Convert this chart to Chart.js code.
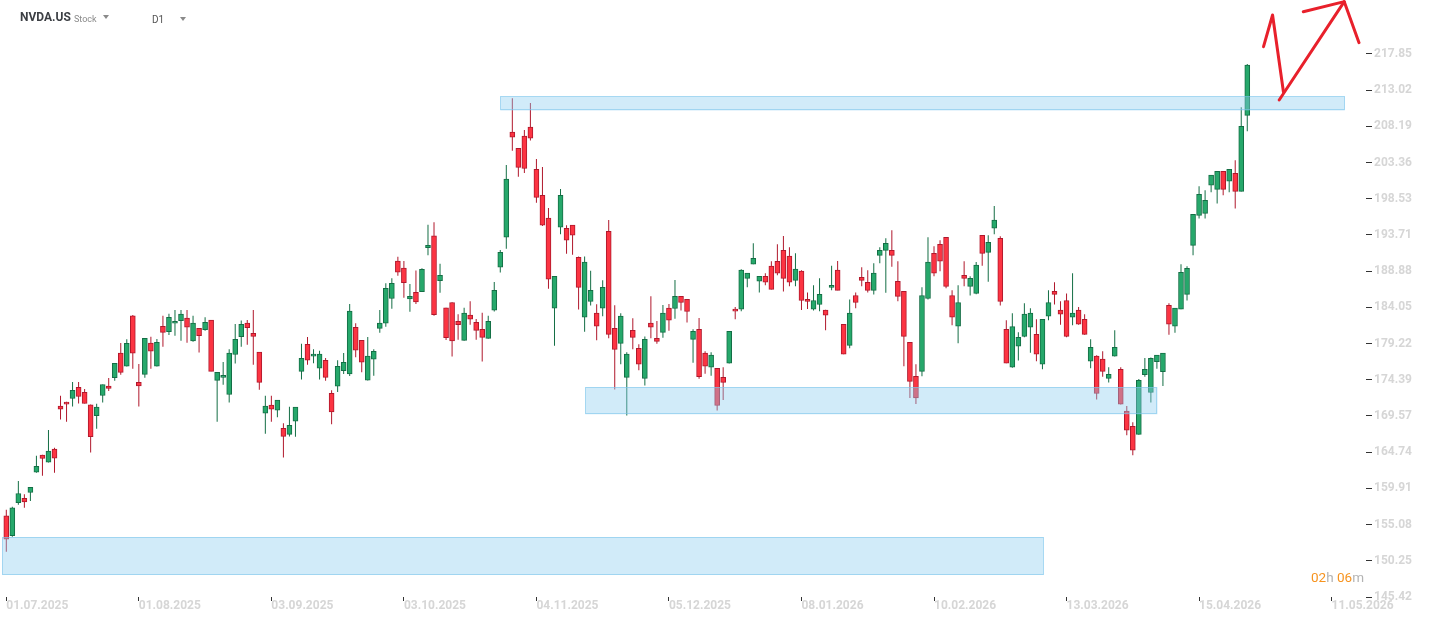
<!DOCTYPE html>
<html>
<head>
<meta charset="utf-8">
<script src="https://cdn.jsdelivr.net/npm/chart.js@4.4.1/dist/chart.umd.min.js"></script>
<style>
  html, body { margin: 0; padding: 0; background: #fff; }
  #wrap { position: relative; width: 1434px; height: 623px; overflow: hidden; font-family: Roboto, sans-serif; }
  #chart { position: absolute; left: 0; top: 0; }
  .txt { position: absolute; white-space: nowrap; }
  .tri { position: absolute; width: 0; height: 0; border-left: 3.5px solid transparent; border-right: 3.5px solid transparent; border-top: 4px solid #8a8a8a; }
</style>
</head>
<body>
<div id="wrap">
  <canvas id="chart" width="1434" height="623"></canvas>
  <div class="txt" style="left:20px;top:10px;font-weight:bold;font-size:12px;color:#3c3f44">NVDA.US</div>
  <div class="txt" style="left:74px;top:14px;font-size:9px;color:#8a8a8a">Stock</div>
  <div class="tri" style="left:103px;top:15px"></div>
  <div class="txt" style="left:152px;top:14px;font-size:10px;color:#555">D1</div>
  <div class="tri" style="left:180px;top:17px"></div>
  <div class="txt" style="left:1311px;top:569px;font-size:13.5px"><span style="color:#f7931e">02</span><span style="color:#b3b3b3">h</span> <span style="color:#f7931e">06</span><span style="color:#b3b3b3">m</span></div>
</div>
<script>
// daily candles, 01.07.2025 onwards (one entry per session)
const opens = [
  156.24, 153.59, 157.99, 158.59, 159.36, 162.06, 164.34, 163.40, 165.15, 170.88,
  171.42, 171.90, 173.37, 172.71, 171.06, 169.62, 172.30, 173.54, 174.66, 177.95,
  176.20, 182.92, 174.04, 175.12, 179.30, 176.20, 181.53, 180.80, 181.94, 182.29,
  182.61, 179.59, 181.26, 181.07, 182.34, 174.31, 174.71, 172.43, 177.76, 180.13,
  181.94, 180.59, 178.08, 169.94, 171.01, 170.34, 167.92, 167.11, 168.86, 175.52,
  179.12, 177.54, 175.93, 177.00, 172.60, 173.54, 175.60, 175.16, 181.40, 179.65,
  174.35, 177.14, 181.26, 181.94, 185.24, 190.22, 189.28, 185.18, 186.05, 186.13,
  192.00, 193.58, 187.61, 183.99, 184.70, 182.20, 179.65, 183.01, 182.07, 181.13,
  179.92, 183.69, 189.41, 193.40, 207.43, 205.28, 206.89, 208.10, 202.45, 199.00,
  195.96, 183.95, 194.75, 194.61, 195.02, 190.72, 182.74, 184.83, 183.28, 183.95,
  194.21, 181.26, 179.26, 174.71, 180.99, 178.59, 174.58, 181.94, 179.92, 180.72,
  183.95, 183.90, 185.51, 185.11, 179.78, 181.13, 177.95, 176.06, 175.93, 174.71,
  176.60, 183.82, 183.82, 187.93, 189.82, 187.53, 188.20, 189.55, 190.20, 191.65,
  190.88, 187.66, 188.88, 185.11, 183.82, 184.43, 183.69, 186.72, 189.01, 181.80,
  178.99, 185.64, 188.07, 187.40, 186.32, 190.99, 191.65, 191.65, 187.53, 186.18,
  179.38, 174.85, 175.52, 185.24, 191.25, 192.46, 193.40, 185.64, 181.53, 188.34,
  186.86, 185.91, 193.67, 191.38, 194.61, 193.27, 181.13, 176.06, 178.86, 180.18,
  181.40, 180.45, 176.47, 182.88, 186.18, 183.69, 184.97, 182.74, 183.69, 182.47,
  176.87, 177.54, 177.14, 174.58, 177.54, 175.79, 170.21, 168.20, 167.11, 175.07,
  172.70, 176.82, 175.47, 184.33, 181.53, 183.82, 185.78, 192.33, 196.31, 196.58,
  200.34, 199.80, 202.20, 200.88, 201.93, 199.53, 209.67
];
const highs = [
  157.05, 157.45, 160.88, 159.13, 160.04, 164.25, 164.40, 167.71, 165.33, 172.25,
  171.46, 174.09, 174.09, 173.15, 171.10, 171.19, 173.78, 174.62, 176.60, 179.30,
  179.80, 183.05, 176.51, 179.92, 180.13, 179.84, 182.92, 183.19, 183.71, 183.71,
  183.71, 182.92, 181.30, 182.74, 182.38, 175.39, 176.78, 178.45, 181.84, 182.29,
  182.38, 183.71, 178.10, 172.25, 172.25, 171.69, 168.59, 170.79, 170.75, 179.20,
  180.10, 178.45, 178.26, 177.31, 173.00, 177.00, 177.95, 184.50, 181.94, 179.70,
  180.09, 178.45, 183.69, 187.26, 187.93, 190.81, 190.24, 187.17, 188.96, 189.28,
  195.06, 195.42, 189.86, 184.00, 184.75, 183.15, 183.99, 184.86, 182.51, 183.34,
  182.92, 187.44, 191.69, 203.03, 211.95, 205.30, 207.70, 211.31, 203.84, 202.78,
  197.30, 188.20, 199.85, 195.02, 195.05, 190.85, 190.85, 188.92, 184.46, 187.66,
  195.69, 184.33, 183.28, 178.08, 182.61, 179.13, 180.18, 185.55, 182.25, 184.38,
  184.50, 187.70, 185.55, 185.15, 181.13, 182.65, 178.20, 178.06, 175.96, 176.06,
  180.86, 184.09, 189.15, 188.65, 192.60, 188.22, 188.61, 190.20, 192.46, 193.58,
  192.06, 191.27, 189.01, 186.05, 186.99, 187.93, 183.72, 189.59, 190.24, 181.84,
  185.11, 186.05, 189.41, 189.01, 189.93, 192.06, 193.27, 194.35, 190.20, 186.20,
  179.40, 176.47, 186.72, 193.40, 192.19, 193.00, 193.42, 186.32, 186.99, 190.20,
  188.20, 190.09, 193.70, 193.67, 197.56, 193.54, 182.34, 183.28, 180.72, 184.60,
  183.95, 182.47, 182.47, 186.32, 187.40, 184.86, 185.91, 188.61, 184.09, 183.15,
  179.80, 177.68, 178.20, 176.06, 180.99, 176.06, 170.88, 168.74, 174.49, 177.31,
  177.38, 177.68, 177.95, 184.60, 183.95, 189.82, 189.55, 196.45, 200.20, 199.67,
  201.69, 202.20, 202.22, 202.47, 203.67, 210.73, 216.50
];
const lows = [
  151.45, 153.45, 157.72, 157.33, 158.23, 162.00, 161.60, 163.35, 162.00, 169.08,
  168.81, 170.83, 171.23, 171.23, 164.69, 167.87, 171.37, 172.91, 174.26, 175.07,
  176.15, 175.87, 170.83, 174.66, 175.87, 176.15, 178.80, 180.36, 180.27, 179.59,
  179.32, 179.46, 178.02, 180.94, 175.52, 168.81, 173.72, 171.36, 176.55, 178.80,
  179.05, 176.41, 173.05, 167.20, 168.81, 169.40, 164.02, 166.84, 166.79, 174.44,
  176.41, 176.60, 174.44, 174.26, 168.46, 172.77, 175.16, 174.89, 177.41, 175.39,
  174.30, 174.93, 180.67, 181.48, 183.87, 188.28, 185.32, 183.47, 184.51, 186.10,
  191.02, 182.92, 185.99, 179.69, 177.49, 179.73, 179.60, 181.75, 179.73, 176.82,
  179.88, 183.50, 188.69, 191.87, 204.95, 201.46, 201.99, 206.30, 198.00, 194.90,
  186.53, 178.93, 193.81, 191.20, 191.07, 183.77, 180.80, 184.30, 179.65, 182.88,
  179.92, 173.10, 176.47, 169.62, 178.45, 175.66, 173.64, 179.92, 179.20, 180.00,
  180.94, 182.55, 183.63, 182.02, 176.68, 174.53, 175.20, 174.93, 170.29, 171.70,
  176.55, 182.47, 183.55, 186.72, 189.80, 186.05, 186.99, 186.45, 188.34, 186.18,
  186.86, 186.86, 183.69, 183.82, 183.64, 183.55, 180.99, 186.32, 186.32, 177.80,
  178.59, 183.95, 186.86, 186.05, 185.78, 189.93, 185.99, 189.47, 184.86, 176.20,
  171.96, 171.15, 174.85, 185.11, 188.20, 188.88, 186.59, 181.67, 179.26, 186.86,
  185.64, 185.80, 189.61, 187.48, 193.81, 184.31, 176.60, 176.00, 176.95, 180.05,
  178.01, 176.87, 175.79, 182.33, 184.43, 181.75, 180.05, 181.67, 181.75, 180.40,
  175.93, 171.77, 174.80, 174.04, 177.50, 171.10, 166.99, 164.34, 167.05, 174.80,
  171.36, 175.87, 173.58, 180.40, 180.67, 183.80, 184.97, 190.99, 195.91, 195.91,
  199.40, 197.92, 199.00, 199.40, 197.25, 199.50, 207.54
];
const closes = [
  153.15, 157.32, 159.23, 158.10, 160.04, 162.86, 163.89, 164.88, 163.94, 170.48,
  171.15, 172.97, 172.16, 171.23, 166.80, 170.75, 173.77, 173.23, 176.60, 175.39,
  179.26, 177.95, 173.58, 179.92, 178.20, 179.40, 180.72, 182.74, 182.20, 183.15,
  181.40, 181.94, 180.27, 182.07, 175.52, 175.39, 174.98, 177.95, 179.80, 181.80,
  181.34, 180.18, 174.04, 170.88, 170.48, 171.69, 166.84, 168.32, 170.75, 177.27,
  177.00, 177.81, 177.81, 174.71, 170.11, 176.20, 176.73, 183.55, 178.33, 176.73,
  177.54, 178.20, 181.94, 186.59, 187.26, 188.74, 187.34, 185.51, 184.78, 189.14,
  192.32, 183.09, 188.34, 180.00, 179.59, 181.75, 183.28, 182.47, 180.99, 180.05,
  182.20, 186.32, 191.38, 201.15, 206.76, 202.72, 202.58, 206.62, 198.73, 195.02,
  187.80, 188.20, 199.00, 193.00, 193.67, 186.72, 190.09, 186.32, 181.53, 186.72,
  180.45, 178.45, 182.88, 177.81, 180.05, 176.47, 179.80, 181.40, 179.52, 183.28,
  182.34, 185.51, 184.70, 183.50, 180.86, 174.80, 176.20, 177.68, 170.96, 174.04,
  180.86, 183.55, 189.01, 188.61, 190.60, 188.20, 187.40, 186.45, 188.61, 187.93,
  187.40, 189.15, 184.97, 184.83, 184.97, 185.78, 183.01, 186.99, 186.32, 177.80,
  183.28, 184.70, 187.66, 186.32, 188.61, 191.65, 192.60, 190.99, 185.51, 180.18,
  174.18, 171.96, 185.64, 190.09, 188.61, 190.20, 186.86, 182.74, 184.70, 187.93,
  187.93, 189.68, 191.25, 192.73, 195.69, 184.86, 176.60, 181.48, 180.05, 183.15,
  183.28, 177.81, 182.47, 184.70, 185.78, 183.15, 180.18, 183.28, 181.80, 180.45,
  178.72, 172.56, 175.52, 175.12, 178.72, 171.15, 167.66, 165.00, 174.31, 175.79,
  177.27, 177.68, 177.95, 181.80, 183.95, 188.74, 189.26, 196.45, 199.13, 198.32,
  201.69, 202.20, 199.80, 202.47, 199.53, 208.20, 216.37
];

// x axis labels, one every 22 sessions
const xTickLabels = ['01.07.2025', '01.08.2025', '03.09.2025', '03.10.2025', '04.11.2025', '05.12.2025',
  '08.01.2026', '10.02.2026', '13.03.2026', '15.04.2026', '11.05.2026'];
const xTickStep = 22;
const yTickLabels = ['145.42', '150.25', '155.08', '159.91', '164.74', '169.57', '174.39', '179.22',
  '184.05', '188.88', '193.71', '198.53', '203.36', '208.19', '213.02', '217.85'];

// support / resistance zones (session index range, price range)
const zoneFrom = [-0.7, 96.1, 82.0];
const zoneTo = [172.2, 191.1, 222.2];
const zoneLow = [148.35, 169.79, 210.31];
const zoneHigh = [153.42, 173.43, 212.21];

// hand drawn red strokes (session index, price)
const strokes = [
  [[208.7, 218.82], [210.2, 223.05], [212.0, 212.82]],
  [[211.3, 211.71], [222.1, 224.83]],
  [[215.3, 223.49], [222.1, 224.83], [224.55, 219.36]]
];

const GREEN = '#26a86b', GREEN_D = '#146e45';
const RED = '#fc3442', RED_D = '#b0182c';

const up = closes.map((c, i) => c >= opens[i]);
const bodyData = opens.map((o, i) => ({ x: i, y: [o, closes[i]] }));
const wickData = highs.map((h, i) => ({ x: i, y: [lows[i], h] }));

const zonesPlugin = {
  id: 'zones',
  afterDatasetsDraw(chart) {
    const { ctx, scales: { x, y } } = chart;
    ctx.save();
    for (let k = 0; k < zoneFrom.length; k++) {
      const l = x.getPixelForValue(zoneFrom[k]);
      const r = x.getPixelForValue(zoneTo[k]);
      const t = y.getPixelForValue(zoneHigh[k]);
      const b = y.getPixelForValue(zoneLow[k]);
      ctx.fillStyle = 'rgba(140,204,240,0.4)';
      ctx.fillRect(l, t, r - l, b - t);
      ctx.strokeStyle = 'rgba(120,195,235,0.55)';
      ctx.lineWidth = 1;
      ctx.strokeRect(Math.round(l) + 0.5, Math.round(t) + 0.5, Math.round(r - l) - 1, Math.round(b - t) - 1);
    }
    ctx.restore();
  }
};

const strokesPlugin = {
  id: 'strokes',
  afterDraw(chart) {
    const { ctx, scales: { x, y } } = chart;
    ctx.save();
    ctx.strokeStyle = '#e8202b';
    ctx.lineWidth = 3;
    ctx.lineCap = 'round';
    ctx.lineJoin = 'round';
    strokes.forEach(pts => {
      ctx.beginPath();
      pts.forEach((p, i) => {
        const px = x.getPixelForValue(p[0]), py = y.getPixelForValue(p[1]);
        if (i === 0) ctx.moveTo(px, py); else ctx.lineTo(px, py);
      });
      ctx.stroke();
    });
    ctx.restore();
  }
};

const tickFont = { family: 'Roboto', size: 12, weight: 'bold' };

new Chart(document.getElementById('chart').getContext('2d'), {
  type: 'bar',
  data: {
    datasets: [
      {
        label: 'body',
        data: bodyData,
        backgroundColor: up.map(u => u ? GREEN : RED),
        borderColor: up.map(u => u ? GREEN_D : RED_D),
        borderWidth: 1,
        borderSkipped: false,
        barThickness: 5,
        grouped: false,
        order: 0
      },
      {
        label: 'wick',
        data: wickData,
        backgroundColor: up.map(u => u ? GREEN_D : RED_D),
        borderWidth: 0,
        barThickness: 1,
        grouped: false,
        inflateAmount: 0,
        order: 1
      }
    ]
  },
  options: {
    responsive: false,
    animation: false,
    events: [],
    layout: { padding: 0 },
    plugins: { legend: { display: false }, tooltip: { enabled: false } },
    scales: {
      x: {
        type: 'linear',
        min: -1.046,
        max: 225.71,
        offset: false,
        border: { display: false },
        grid: { drawOnChartArea: false, drawTicks: true, tickLength: 4, color: '#333', offset: false },
        afterBuildTicks: s => { s.ticks = xTickLabels.map((_, k) => ({ value: k * xTickStep })); },
        afterFit: s => { s.height = 26; s.paddingLeft = 0; s.paddingRight = 0; },
        ticks: {
          autoSkip: false, maxRotation: 0, minRotation: 0, align: 'start', padding: -2,
          color: '#d6d6d6', font: tickFont,
          callback: v => xTickLabels[Math.round(v / xTickStep)]
        }
      },
      y: {
        position: 'right',
        min: 145.42,
        max: 225.05,
        border: { display: false },
        grid: { drawOnChartArea: false, drawTicks: true, tickLength: 6, color: '#333' },
        afterBuildTicks: s => { s.ticks = yTickLabels.map(t => ({ value: parseFloat(t) })); },
        afterFit: s => { s.width = 68; s.paddingTop = 0; s.paddingBottom = 0; },
        ticks: {
          padding: 2, color: '#d6d6d6', font: tickFont,
          callback: (v, i) => yTickLabels[i]
        }
      }
    }
  },
  plugins: [zonesPlugin, strokesPlugin]
});
</script>
</body>
</html>
